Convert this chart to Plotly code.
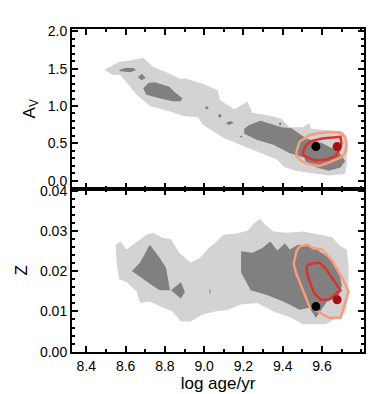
import plotly.graph_objects as go

# ---- top panel: A_V vs log age ----
av_light_x = [8.491, 8.566, 8.624, 8.69, 8.74, 8.806, 8.88, 8.90, 8.989, 9.07, 9.08, 9.154,
              9.22, 9.245, 9.337, 9.395, 9.436, 9.50, 9.536, 9.544, 9.635, 9.71, 9.726, 9.726,
              9.718, 9.635, 9.47, 9.41, 9.37, 9.27, 9.17, 9.105, 9.04, 8.99, 8.97, 8.89,
              8.823, 8.723, 8.657, 8.632, 8.607, 8.574, 8.532]
av_light_y = [1.48, 1.59, 1.61, 1.645, 1.52, 1.45, 1.36, 1.37, 1.30, 1.21, 1.08, 0.955,
              1.06, 0.91, 0.87, 0.825, 0.716, 0.716, 0.77, 0.695, 0.674, 0.65, 0.48, 0.22,
              0.09, 0.07, 0.13, 0.18, 0.285, 0.39, 0.50, 0.566, 0.67, 0.76, 0.846, 0.87,
              0.93, 1.0, 1.15, 1.23, 1.32, 1.41, 1.42]

av_dark = [
    ([8.566, 8.598, 8.64, 8.654, 8.624, 8.574], [1.48, 1.508, 1.508, 1.48, 1.45, 1.465]),
    ([8.662, 8.682, 8.702, 8.682], [1.386, 1.43, 1.377, 1.343]),
    ([8.69, 8.715, 8.748, 8.823, 8.848, 8.889, 8.881, 8.839, 8.773, 8.706],
     [1.234, 1.308, 1.317, 1.256, 1.192, 1.105, 1.062, 1.062, 1.105, 1.149]),
    ([9.004, 9.014, 9.024, 9.014], [0.975, 1.0, 0.975, 0.95]),
    ([9.07, 9.08, 9.09, 9.08], [0.868, 0.895, 0.868, 0.84]),
    ([9.11, 9.135, 9.15, 9.125], [0.773, 0.80, 0.773, 0.745]),
    ([9.18, 9.188, 9.196, 9.188], [0.587, 0.60, 0.587, 0.574]),
    ([9.38, 9.387, 9.394, 9.387], [0.76, 0.785, 0.76, 0.735]),
    ([9.204, 9.229, 9.287, 9.337, 9.395, 9.445, 9.486, 9.52, 9.602, 9.685, 9.718, 9.694,
      9.635, 9.586, 9.52, 9.51, 9.434, 9.353, 9.27, 9.204],
     [0.695, 0.747, 0.803, 0.76, 0.716, 0.703, 0.63, 0.566, 0.50, 0.39, 0.263, 0.177,
      0.133, 0.168, 0.23, 0.307, 0.372, 0.48, 0.544, 0.63]),
]

av_outer_x = [9.47, 9.486, 9.536, 9.586, 9.652, 9.694, 9.718, 9.726, 9.718, 9.694, 9.635,
              9.586, 9.536, 9.495, 9.47, 9.47]
av_outer_y = [0.393, 0.522, 0.609, 0.639, 0.652, 0.644, 0.587, 0.479, 0.372, 0.307, 0.242,
              0.198, 0.22, 0.263, 0.328, 0.393]
av_inner_x = [9.503, 9.52, 9.544, 9.602, 9.694, 9.699, 9.694, 9.669, 9.619, 9.569, 9.527,
              9.503, 9.503]
av_inner_y = [0.393, 0.479, 0.531, 0.566, 0.587, 0.50, 0.436, 0.328, 0.285, 0.272, 0.307,
              0.35, 0.393]
av_best = (9.569, 0.457)
av_true = (9.677, 0.457)

# ---- bottom panel: Z vs log age ----
z_light_x = [8.549, 8.574, 8.604, 8.632, 8.674, 8.706, 8.740, 8.781, 8.831, 8.873, 8.930,
             8.980, 9.022, 9.055, 9.097, 9.163, 9.221, 9.254, 9.284, 9.312, 9.353, 9.420,
             9.502, 9.586, 9.652, 9.689, 9.726, 9.735, 9.735, 9.726, 9.718, 9.619, 9.502,
             9.445, 9.353, 9.271, 9.188, 9.121, 9.055, 8.989, 8.930, 8.881, 8.839, 8.756,
             8.723, 8.674, 8.657, 8.607, 8.566, 8.554]
z_light_y = [0.0266, 0.0274, 0.0254, 0.0264, 0.0280, 0.0291, 0.0296, 0.0285, 0.0280, 0.0246,
             0.0222, 0.0234, 0.0258, 0.0270, 0.0291, 0.0294, 0.0301, 0.0319, 0.0331, 0.0315,
             0.0299, 0.0296, 0.0299, 0.0291, 0.0285, 0.0264, 0.0254, 0.0214, 0.0149, 0.0117,
             0.0096, 0.0068, 0.0068, 0.0084, 0.0100, 0.0121, 0.0117, 0.0104, 0.0100, 0.0092,
             0.0075, 0.0075, 0.0100, 0.0117, 0.0125, 0.0121, 0.0149, 0.0173, 0.0181, 0.0222]

z_dark = [
    ([8.632, 8.674, 8.723, 8.773, 8.806, 8.826, 8.773, 8.723],
     [0.0201, 0.0222, 0.0266, 0.0234, 0.0209, 0.0153, 0.0153, 0.0169]),
    ([8.831, 8.881, 8.902, 8.881], [0.0153, 0.0173, 0.0149, 0.0132]),
    ([9.027, 9.03, 9.033, 9.03], [0.0150, 0.0158, 0.0150, 0.0142]),
    ([9.188, 9.246, 9.296, 9.337, 9.373, 9.411, 9.436, 9.478, 9.552, 9.635, 9.685, 9.701,
      9.685, 9.625, 9.569, 9.536, 9.486, 9.403, 9.320, 9.237, 9.188],
     [0.0250, 0.0246, 0.0258, 0.0274, 0.0252, 0.0270, 0.0254, 0.0266, 0.0262, 0.0234,
      0.0201, 0.0165, 0.0137, 0.0124, 0.0084, 0.0109, 0.0104, 0.0125, 0.0141, 0.0153,
      0.0197]),
]

z_outer_x = [9.486, 9.527, 9.552, 9.602, 9.652, 9.71, 9.735, 9.718, 9.694, 9.635, 9.594,
             9.536, 9.503, 9.47, 9.456, 9.47, 9.486]
z_outer_y = [0.0262, 0.0266, 0.0258, 0.0254, 0.0226, 0.0177, 0.0149, 0.0121, 0.0084, 0.0084,
             0.0096, 0.0112, 0.0153, 0.0193, 0.0218, 0.0250, 0.0262]
z_inner_x = [9.522, 9.544, 9.586, 9.619, 9.66, 9.694, 9.669, 9.635, 9.594, 9.561, 9.536,
             9.522, 9.522]
z_inner_y = [0.0214, 0.0219, 0.0222, 0.0206, 0.0177, 0.0153, 0.0143, 0.0130, 0.0129, 0.0145,
             0.0177, 0.0201, 0.0214]
z_best = (9.569, 0.0112)
z_true = (9.677, 0.0129)

age_ticks = [8.4, 8.6, 8.8, 9.0, 9.2, 9.4, 9.6]

LIGHT = "#d3d3d3"
DARK = "#808080"
SALMON = "#fa9b7a"
RED = "#e0302a"
DOT_RED = "#a50f15"

fig = go.Figure()


def add_panel(light_x, light_y, dark, outer, inner, best, true, xa, ya):
    fig.add_trace(go.Scatter(x=light_x, y=light_y, fill="toself", fillcolor=LIGHT,
                             mode="lines", line=dict(width=0), hoverinfo="skip",
                             xaxis=xa, yaxis=ya))
    for dx, dy in dark:
        fig.add_trace(go.Scatter(x=dx, y=dy, fill="toself", fillcolor=DARK,
                                 mode="lines", line=dict(width=0), hoverinfo="skip",
                                 xaxis=xa, yaxis=ya))
    fig.add_trace(go.Scatter(x=outer[0], y=outer[1], mode="lines",
                             line=dict(color=SALMON, width=2.5), xaxis=xa, yaxis=ya))
    fig.add_trace(go.Scatter(x=inner[0], y=inner[1], mode="lines",
                             line=dict(color=RED, width=2.5), xaxis=xa, yaxis=ya))
    fig.add_trace(go.Scatter(x=[best[0]], y=[best[1]], mode="markers",
                             marker=dict(color="black", size=9), xaxis=xa, yaxis=ya))
    fig.add_trace(go.Scatter(x=[true[0]], y=[true[1]], mode="markers",
                             marker=dict(color=DOT_RED, size=9), xaxis=xa, yaxis=ya))


add_panel(av_light_x, av_light_y, av_dark, (av_outer_x, av_outer_y),
          (av_inner_x, av_inner_y), av_best, av_true, "x2", "y2")
add_panel(z_light_x, z_light_y, z_dark, (z_outer_x, z_outer_y),
          (z_inner_x, z_inner_y), z_best, z_true, "x", "y")

axis_style = dict(
    showline=True, linecolor="black", linewidth=2, mirror="ticks",
    ticks="inside", ticklen=6, tickwidth=1.5, tickcolor="black",
    showgrid=False, zeroline=False,
    tickfont=dict(family="Liberation Sans, Arial", size=14, color="black"),
)
minor_x = dict(dtick=0.1, tick0=8.4, ticklen=3, ticks="inside", tickcolor="black")

fig.update_layout(
    width=374, height=394,
    margin=dict(l=57, r=18, t=21, b=40),
    plot_bgcolor="white", paper_bgcolor="white",
    showlegend=False,
    font=dict(family="Liberation Sans, Arial", size=14, color="black"),
    xaxis=dict(range=[8.327, 9.814], tickvals=age_ticks, ticktext=[f"{v:.1f}" for v in age_ticks],
               minor=minor_x, title=dict(text="log age/yr", standoff=4), anchor="y",
               **axis_style),
    xaxis2=dict(range=[8.327, 9.814], tickvals=age_ticks, showticklabels=False,
                minor=minor_x, anchor="y2", matches="x", **axis_style),
    yaxis=dict(domain=[0, 0.506], range=[-0.0001, 0.0406], dtick=0.01, tickformat=".2f",
               minor=dict(dtick=0.002, ticklen=3, ticks="inside", tickcolor="black"),
               title=dict(text="Z", standoff=8), anchor="x", **axis_style),
    yaxis2=dict(domain=[0.506, 1], range=[-0.105, 2.03], dtick=0.5, tickformat=".1f",
                minor=dict(dtick=0.1, ticklen=3, ticks="inside", tickcolor="black"),
                title=dict(text="A<sub>V</sub>", standoff=8), anchor="x2", **axis_style),
)

fig.write_html("out.html")
